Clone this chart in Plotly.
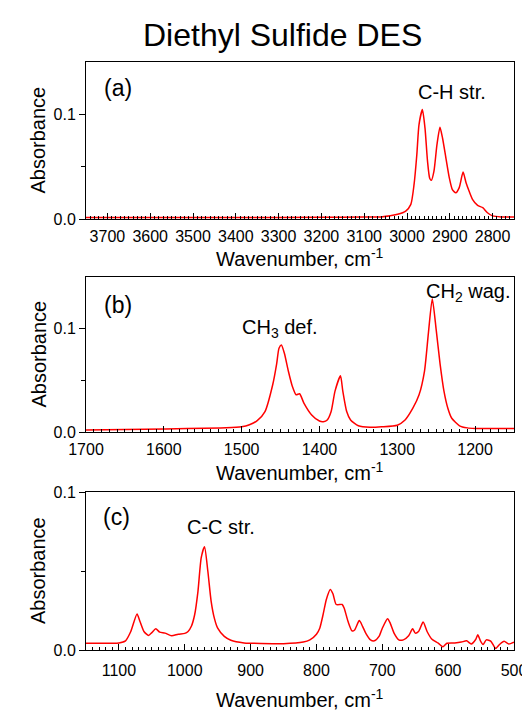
import plotly.graph_objects as go

# ---------------- data ----------------
wn_a = [3750, 3600, 3400, 3200, 3100, 3061, 3022, 3003, 2991, 2983.5, 2977, 2972, 2964,
        2958, 2952, 2947, 2943, 2937, 2930, 2923, 2917, 2909, 2901, 2894, 2886, 2878,
        2869, 2862, 2855, 2847, 2835, 2823, 2812, 2800, 2780, 2750]
abs_a = [0.0015, 0.0015, 0.0015, 0.0016, 0.0018, 0.002, 0.0045, 0.0076, 0.014, 0.033, 0.0616,
         0.090, 0.1045, 0.087, 0.055, 0.039, 0.037, 0.0457, 0.071, 0.0876, 0.0774, 0.058,
         0.039, 0.028, 0.025, 0.030, 0.0448, 0.0346, 0.0267, 0.0188, 0.013, 0.0108, 0.006,
         0.003, 0.002, 0.002]

wn_b = [1700, 1600, 1520, 1500, 1490, 1480, 1470, 1460, 1455, 1452, 1449, 1445, 1440, 1435,
        1430, 1425.5, 1420, 1410, 1400, 1395, 1390, 1385, 1380, 1373, 1370, 1365, 1360,
        1350, 1335, 1320, 1300, 1290, 1280, 1272, 1265, 1260, 1255, 1250, 1245, 1240,
        1235, 1230, 1220, 1210, 1200, 1150]
abs_b = [0.002, 0.003, 0.004, 0.005, 0.007, 0.011, 0.0198, 0.046, 0.066, 0.081, 0.0841,
         0.076, 0.059, 0.0446, 0.036, 0.037, 0.028, 0.0165, 0.0106, 0.010, 0.0116, 0.0198,
         0.0396, 0.0544, 0.0396, 0.0198, 0.0116, 0.006, 0.0045, 0.005, 0.0066, 0.0116,
         0.023, 0.036, 0.059, 0.0957, 0.129, 0.099, 0.066, 0.0396, 0.023, 0.0133, 0.006,
         0.004, 0.0035, 0.0033]

wn_c = [1150, 1100, 1090, 1082, 1072.5, 1068, 1062, 1055, 1050, 1044, 1038, 1030, 1020,
        1010, 1000, 995, 990, 985, 980, 975, 970, 965, 960, 955, 950, 940, 930, 910, 900,
        850, 820, 810, 800, 795, 790, 785, 779, 775, 770, 761, 758, 752, 746, 742, 735,
        730, 725, 718, 712, 705, 700, 692, 688, 682, 675, 668, 660, 654, 650, 645, 638,
        632, 625, 615, 608, 602, 590, 580, 572, 565, 558, 555, 551, 547, 542, 535, 528,
        522, 515, 508, 500]
abs_c = [0.0043, 0.0045, 0.0058, 0.0117, 0.0228, 0.018, 0.0117, 0.0092, 0.011, 0.0134,
         0.0113, 0.0107, 0.009, 0.010, 0.0105, 0.0117, 0.015, 0.0223, 0.037, 0.0585, 0.0653,
         0.050, 0.031, 0.020, 0.0138, 0.0086, 0.0062, 0.0045, 0.0043, 0.004, 0.005, 0.0064,
         0.010, 0.0138, 0.0223, 0.032, 0.0383, 0.0356, 0.0288, 0.0288, 0.0266, 0.018,
         0.0121, 0.0127, 0.0186, 0.015, 0.0105, 0.0064, 0.0058, 0.0086, 0.0138, 0.0198,
         0.017, 0.0105, 0.0064, 0.0064, 0.009, 0.0134, 0.0107, 0.0117, 0.0177, 0.0117,
         0.007, 0.0043, 0.002, 0.0043, 0.0045, 0.005, 0.0058, 0.0038, 0.0068, 0.0096,
         0.0058, 0.0035, 0.0064, 0.0055, 0.001, 0.0035, 0.0055, 0.0038, 0.005]

x_ranges = [[3750, 2750], [1700, 1150], [1150, 500]]
y_ranges = [[0, 0.15], [0, 0.15], [0, 0.10001]]
x_tickvals = [[3700, 3600, 3500, 3400, 3300, 3200, 3100, 3000, 2900, 2800],
              [1700, 1600, 1500, 1400, 1300, 1200],
              [1100, 1000, 900, 800, 700, 600, 500]]
y_tickvals = [[0, 0.1], [0, 0.1], [0, 0.1]]
y_ticktext = ["0.0", "0.1"]
panel_labels = ["(a)", "(b)", "(c)"]
title_text = "Diethyl Sulfide DES"
x_title = "Wavenumber, cm<sup>-1</sup>"
y_title = "Absorbance"

# ---------------- layout helpers ----------------
# The page body has an 8 px margin, so the figure is drawn 8 px in from the
# window's top-left corner; work in window pixels and convert.
OFF = 8
W, H = 530 - OFF, 710 - OFF
FONT = "Arial, 'Liberation Sans', sans-serif"
def px(x):
    return (x - OFF) / W
def py(y):
    return 1 - (y - OFF) / H

left, right = 86, 514
tops = [62, 277, 492]
bottoms = [219, 432, 650]

fig = go.Figure()
data = [(wn_a, abs_a), (wn_b, abs_b), (wn_c, abs_c)]
for i, (xv, yv) in enumerate(data):
    suffix = "" if i == 0 else str(i + 1)
    fig.add_trace(go.Scatter(x=xv, y=yv, mode="lines",
                             line=dict(color="#ff0000", width=1.5, shape="spline", smoothing=0.6),
                             xaxis="x" + suffix, yaxis="y" + suffix, showlegend=False, hoverinfo="skip"))
    xa = dict(domain=[px(left), px(right)], range=x_ranges[i], anchor="y" + suffix,
              automargin=False,
              showline=True, mirror=True, linecolor="black", linewidth=1,
              ticks="inside", ticklen=6, tickcolor="black", tickwidth=1,
              tickvals=x_tickvals[i], tickfont=dict(family=FONT, size=16, color="black"),
              minor=dict(dtick=10, ticks="inside", ticklen=3, tickcolor="black", tickwidth=1),
              showgrid=False, zeroline=False, fixedrange=True,
              ticklabelstandoff=(3 if i < 2 else 6))
    ya = dict(domain=[py(bottoms[i]), py(tops[i])], range=y_ranges[i], anchor="x" + suffix,
              automargin=False,
              showline=True, mirror=True, linecolor="black", linewidth=1,
              ticks="outside", ticklen=6, tickcolor="black", tickwidth=1,
              tickvals=y_tickvals[i], ticktext=y_ticktext,
              tickfont=dict(family=FONT, size=16, color="black"),
              minor=dict(tickvals=[0.05], ticks="outside", ticklen=4, tickcolor="black", tickwidth=1),
              showgrid=False, zeroline=False, fixedrange=True)
    fig.update_layout(**{"xaxis" + suffix: xa, "yaxis" + suffix: ya})

ann = []
def add_text(text, x, y, size, angle=0, xanchor="center"):
    ann.append(dict(text=text, x=px(x), y=py(y), xref="paper", yref="paper", showarrow=False,
                    xanchor=xanchor, yanchor="middle", textangle=angle,
                    font=dict(family=FONT, size=size, color="black")))

add_text(title_text, 282, 35, 32)
xt_y = [257, 471, 698]
for i in range(3):
    add_text(x_title, 300, xt_y[i], 20)
    add_text(y_title, 38, (tops[i] + bottoms[i]) / 2, 20, angle=-90)
label_pos = [(118, 88), (118, 305), (116, 517)]
for i in range(3):
    add_text(panel_labels[i], label_pos[i][0], label_pos[i][1], 23)
add_text("C-H str.", 452, 92, 20)
add_text("CH<sub>3</sub> def.", 280, 328, 20)
add_text("CH<sub>2</sub> wag.", 468, 292, 20)
add_text("C-C str.", 221, 527, 20)

fig.update_layout(template="none", width=W, height=H, margin=dict(l=0, r=0, t=0, b=0),
                  paper_bgcolor="white", plot_bgcolor="white", annotations=ann)
fig.write_html("out.html")
